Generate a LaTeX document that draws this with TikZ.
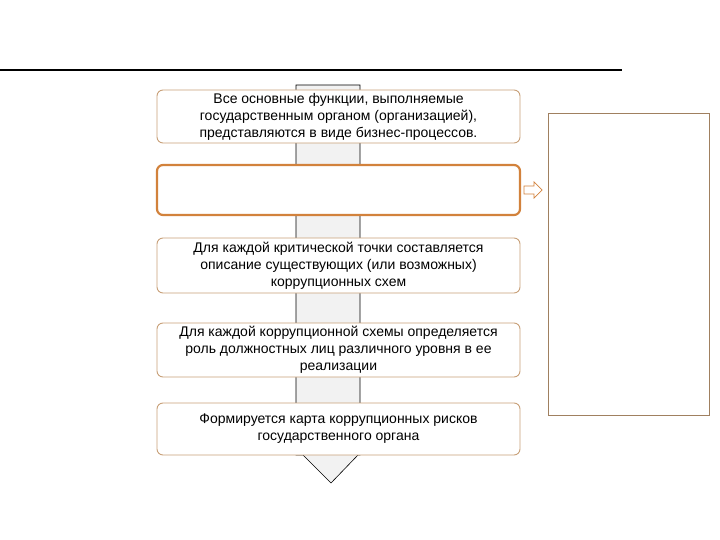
\documentclass[tikz,border=0pt]{standalone}
\usepackage{fontspec}
\setmainfont{Liberation Sans}
\definecolor{bord}{RGB}{200,160,120}
\definecolor{hotc}{RGB}{210,130,60}
\begin{document}
\begin{tikzpicture}[x=1pt,y=-1pt,
  stepbox/.style={draw=bord, line width=0.9pt, fill=white, rounded corners=6pt, minimum width=363pt, align=center, font=\fontsize{14}{17}\selectfont, inner sep=1pt},
  hot/.style={stepbox, draw=hotc, line width=2.2pt}]
\useasboundingbox (0,0) rectangle (720,540);
\draw[line width=1.8pt] (0,70) -- (622,70);
\draw[fill=gray!10, line width=0.6pt] (296,85) -- (360,85) -- (360,455) -- (358,455) -- (331,483) -- (303,455) -- (296,455) -- cycle;
\node[stepbox, minimum height=53pt] (b1) at (338.5,116.5) {Все основные функции, выполняемые\\государственным органом (организацией),\\представляются в виде бизнес-процессов.};
\node[hot, minimum height=50pt] (b2) at (338.5,190) {};
\node[stepbox, minimum height=55pt] (b3) at (338.5,265.5) {Для каждой критической точки составляется\\описание существующих (или возможных)\\коррупционных схем};
\node[stepbox, minimum height=54pt] (b4) at (338.5,350) {Для каждой коррупционной схемы определяется\\роль должностных лиц различного уровня в ее\\реализации};
\node[stepbox, minimum height=52pt] (b5) at (338.5,429) {Формируется карта коррупционных рисков\\государственного органа};
\node[draw=bord!80!black, line width=0.8pt, minimum width=161pt, minimum height=302pt] (r) at (628.5,264) {};
\draw[draw=hotc, fill=white, line width=0.7pt] (524,186) -- (534,186) -- (534,182) -- (542,190) -- (534,198) -- (534,194) -- (524,194) -- cycle;
\end{tikzpicture}
\end{document}
